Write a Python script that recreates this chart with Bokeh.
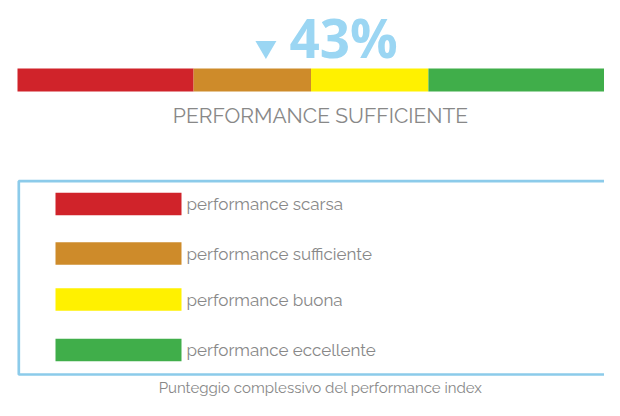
from bokeh.plotting import figure
from bokeh.models import Range1d
from bokeh.core.properties import value
from bokeh.embed import file_html
from bokeh.resources import INLINE

# ---- data ----
bands = ["performance scarsa", "performance sufficiente", "performance buona", "performance eccellente"]
band_start = [0, 30, 50, 70]
band_end = [30, 50, 70, 100]
band_colors = ["#D0232A", "#CE8B2A", "#FFF100", "#40AE4A"]
score = 43
score_label = "43%"
status_label = "PERFORMANCE SUFFICIENTE"
caption = "Punteggio complessivo del performance index"

# ---- layout helpers (picture pixels) ----
W, H = 604, 400
X0 = 17.0                 # picture px of value 0
PX = (W - X0) / 100.0     # picture px per value unit
def xd(px):               # picture px -> data x
    return (px - X0) / PX
def ld(px):               # pixel length -> data length
    return px / PX

FONT = value("Raleway, Lato")
GRAY = "#888888"
BLUE = "#9BD6F3"

p = figure(width=W, height=H, x_range=Range1d(xd(0), xd(W)), y_range=Range1d(H, 0),
           output_backend="svg", toolbar_location=None, min_border=0,
           background_fill_color="white", border_fill_color="white")
p.axis.visible = False
p.grid.visible = False
p.outline_line_color = None

# gauge bar
p.quad(left=band_start, right=band_end, top=[68] * 4, bottom=[91] * 4,
       fill_color=band_colors, line_color=None)

# marker triangle and score
p.scatter(x=[score - ld(4)], y=[46.5], marker="inverted_triangle", size=21,
          fill_color=BLUE, line_color=None)
p.text(x=[score + ld(19.5)], y=[37], text=[score_label], text_font=value("Open Sans"),
       text_font_style="bold", text_font_size="53px", text_color=BLUE,
       text_baseline="middle", text_align="left")

# status label
p.text(x=[xd(320)], y=[114.5], text=[status_label], text_font=FONT,
       text_font_size="21px", text_color=GRAY, text_baseline="middle", text_align="center")

# legend box
p.quad(left=[xd(18.3)], right=[xd(W + 20)], top=[180.7], bottom=[374],
       fill_color=None, line_color="#8CCBEA", line_width=2.7)
legend_y = [203.5, 253, 299, 349.5]
p.rect(x=[xd(118)] * 4, y=legend_y, width=ld(126), height=22.5, fill_color=band_colors, line_color=None)
p.text(x=[xd(186)] * 4, y=legend_y, text=bands, text_font=FONT, text_font_size="17px",
       text_color=GRAY, text_baseline="middle", text_align="left")

# caption
p.text(x=[xd(320)], y=[387], text=[caption], text_font=FONT, text_font_size="15px",
       text_color=GRAY, text_baseline="middle", text_align="center")

open("out.html", "w").write(file_html(p, INLINE))
